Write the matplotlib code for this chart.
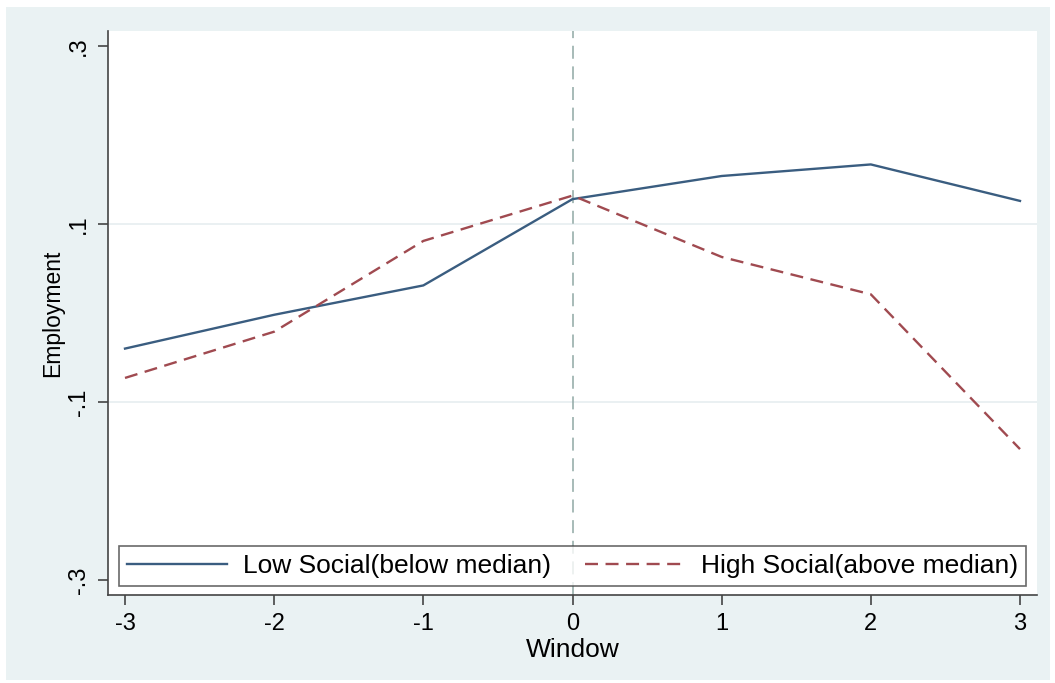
import matplotlib
matplotlib.use("Agg")
import matplotlib.pyplot as plt
from matplotlib.patches import Rectangle

window = [-3, -2, -1, 0, 1, 2, 3]
low_social = [-0.040, -0.002, 0.031, 0.128, 0.154, 0.167, 0.126]
high_social = [-0.073, -0.021, 0.081, 0.132, 0.063, 0.021, -0.153]
yticks = [-0.3, -0.1, 0.1, 0.3]
ytick_labels = ["-.3", "-.1", ".1", ".3"]
xticks = [-3, -2, -1, 0, 1, 2, 3]

plt.rcParams['font.family'] = ['Liberation Sans', 'DejaVu Sans']

W, H = 1055, 683
fig = plt.figure(figsize=(W / 100, H / 100), dpi=100)
fig.patch.set_facecolor("white")
bg = "#eaf2f3"
fig.add_artist(Rectangle((6 / W, 3 / H), (1050 - 6) / W, (676 - 3) / H,
                         transform=fig.transFigure, facecolor=bg,
                         edgecolor="none", zorder=-10))

ax = fig.add_axes([108 / W, 1 - 595 / H, (1037 - 108) / W, (595 - 31) / H])
ax.set_zorder(5)
ax.set_facecolor("white")

blue = "#3a5d80"
red = "#a04a50"

for y in [-0.1, 0.1]:
    ax.axhline(y, color="#e6eef0", lw=1.2, zorder=1)
ax.axvline(0, color="#90a8a4", lw=1.1, ls=(0, (8.5, 5)), zorder=1)

ax.plot(window, low_social, color=blue, lw=1.7, zorder=3,
        label="Low Social(below median)")
ax.plot(window, high_social, color=red, lw=1.7, ls=(0, (5.5, 3.2)), zorder=3,
        label="High Social(above median)")

ax.set_xlim(-3.114, 3.114)
ax.set_ylim(-0.317, 0.317)
ax.set_xticks(xticks)
ax.set_xticklabels([str(x) for x in xticks])
ax.set_yticks(yticks)
ax.set_yticklabels(ytick_labels, rotation=90, va="center")

for s in ["top", "right"]:
    ax.spines[s].set_visible(False)
for s in ["left", "bottom"]:
    ax.spines[s].set_color("#444444")
    ax.spines[s].set_linewidth(1.2)

ax.tick_params(axis="both", direction="out", length=7, width=1.2,
               color="#444444", labelsize=17, labelcolor="black")
ax.tick_params(axis="x", pad=6)
ax.tick_params(axis="y", pad=6)

ax.set_xlabel("Window", fontsize=19, labelpad=2)
ax.set_ylabel("Employment", fontsize=16.5, labelpad=3)

leg = ax.legend(loc="lower center", ncol=2, fontsize=19, frameon=True,
                fancybox=False, edgecolor="#444444", handlelength=3.8,
                columnspacing=1.3, borderpad=0.3, handletextpad=0.6,
                borderaxespad=0.35, bbox_to_anchor=(0.5, 0.0))
leg.get_frame().set_linewidth(1.2)

fig.savefig("out.png", dpi=100, facecolor=fig.get_facecolor())
